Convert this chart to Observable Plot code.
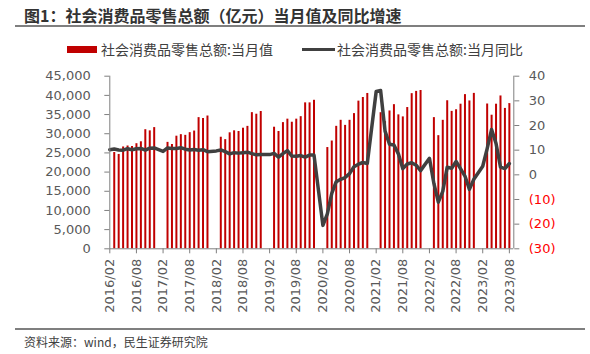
<!DOCTYPE html>
<html>
<head>
<meta charset="utf-8">
<script src="https://cdn.jsdelivr.net/npm/d3@7"></script>
<script src="https://cdn.jsdelivr.net/npm/@observablehq/plot@0.6"></script>
<style>
  html, body { margin: 0; padding: 0; background: #fff; }
  #wrap { position: relative; width: 590px; height: 354px; overflow: hidden; font-family: "Noto Sans CJK SC", sans-serif; }
  .abs { position: absolute; white-space: nowrap; }
  #title { left: 24px; top: 5px; font-size: 16px; line-height: 20px; font-weight: bold; color: #333; }
  .rule { position: absolute; left: 15px; width: 570px; height: 2px; background: #7f7f7f; }
  .leg { top: 41.5px; font-size: 14px; line-height: 14px; color: #404040; }
  #source { left: 24px; top: 336px; font-size: 12px; line-height: 12px; color: #404040; }
  #chart { position: absolute; left: 0; top: 60px; }
</style>
</head>
<body>
<div id="wrap">
  <div id="title" class="abs">图1：社会消费品零售总额（亿元）当月值及同比增速</div>
  <div class="rule" style="top:25px"></div>
  <div class="abs" style="left:66.7px;top:46px;width:30px;height:7px;background:#C00000"></div>
  <div class="abs leg" style="left:101px">社会消费品零售总额:当月值</div>
  <div class="abs" style="left:302px;top:47.5px;width:33px;height:3px;background:#404040"></div>
  <div class="abs leg" style="left:337px">社会消费品零售总额:当月同比</div>
  <div id="chart"></div>
  <div class="rule" style="top:328px"></div>
  <div id="source" class="abs">资料来源：wind，民生证券研究院</div>
</div>
<script>
// ---- Data ----
const seriesBar = "社会消费品零售总额:当月值";
const seriesLine = "社会消费品零售总额:当月同比";
const firstMonth = "2016/02";
const lastMonth = "2023/08";

// Monthly retail sales (亿元), March..December (Jan/Feb not published separately)
const sales2016 = [25100, 24600, 26550, 26800, 26670, 27400, 27900, 31050, 30750, 31600];
const sales2017 = [27750, 27200, 29360, 29760, 29580, 30280, 30700, 34200, 33970, 34620];
const sales2018 = [29090, 28460, 30240, 30760, 30580, 31440, 31920, 35500, 35090, 35790];
const sales2019 = [31700, 30590, 32900, 33800, 33000, 33800, 34450, 38050, 38050, 38720];
const sales2020 = [26400, 28100, 31930, 33500, 32180, 33500, 35250, 38500, 39450, 40500];
const sales2021 = [35480, 33150, 35940, 37580, 34920, 34390, 36830, 40450, 41040, 41270];
const sales2022 = [34200, 29500, 33500, 38600, 35830, 36250, 37700, 40200, 38550, 40520];
const sales2023 = [37750, 34830, 37700, 39850, 36600, 37850];

// YoY growth (%), February..December (February = Jan-Feb cumulative)
const yoy2016 = [10.2, 10.5, 10.1, 10.0, 10.6, 10.2, 10.6, 10.7, 10.0, 10.8, 10.9];
const yoy2017 = [9.5, 10.9, 10.7, 10.7, 11.0, 10.4, 10.1, 10.3, 10.0, 10.2, 9.4];
const yoy2018 = [9.7, 10.1, 9.4, 8.5, 9.0, 8.8, 9.0, 9.2, 8.6, 8.1, 8.2];
const yoy2019 = [8.2, 8.7, 7.2, 8.6, 9.8, 7.6, 7.5, 7.8, 7.2, 8.0, 8.0];
const yoy2020 = [-20.5, -15.8, -7.5, -2.8, -1.8, -1.1, 0.5, 3.3, 4.3, 5.0, 4.6];
const yoy2021 = [33.8, 34.2, 17.7, 12.4, 12.1, 8.5, 2.5, 4.4, 4.9, 3.9, 1.7];
const yoy2022 = [6.7, -3.5, -11.1, -6.7, 3.1, 2.7, 5.4, 2.5, -0.5, -5.9, -1.8];
const yoy2023 = [3.5, 10.6, 18.4, 12.7, 3.1, 2.5, 4.6];

const years = [2016, 2017, 2018, 2019, 2020, 2021, 2022, 2023];
const salesByYear = [sales2016, sales2017, sales2018, sales2019, sales2020, sales2021, sales2022, sales2023];
const yoyByYear = [yoy2016, yoy2017, yoy2018, yoy2019, yoy2020, yoy2021, yoy2022, yoy2023];

const salesTicks = [0, 5000, 10000, 15000, 20000, 25000, 30000, 35000, 40000, 45000];
const yoyTicks = [-30, -20, -10, 0, 10, 20, 30, 40];
const xTickLabels = ["2016/02","2016/08","2017/02","2017/08","2018/02","2018/08","2019/02","2019/08",
  "2020/02","2020/08","2021/02","2021/08","2022/02","2022/08","2023/02","2023/08"];

// ---- Build tables ----
const pad = m => (m < 10 ? "0" : "") + m;
const months = [];
for (let y = 2016; y <= 2023; y++) for (let m = 1; m <= 12; m++) months.push(`${y}/${pad(m)}`);
const monthList = months.slice(months.indexOf(firstMonth), months.indexOf(lastMonth) + 1);
const idx = label => monthList.indexOf(label);

const bars = [];
const line = [];
years.forEach((y, k) => {
  salesByYear[k].forEach((v, j) => bars.push({i: idx(`${y}/${pad(j + 3)}`), v}));
  yoyByYear[k].forEach((v, j) => line.push({i: idx(`${y}/${pad(j + 2)}`), v}));
});

const salesMax = salesTicks[salesTicks.length - 1];
const yoyMin = yoyTicks[0], yoyMax = yoyTicks[yoyTicks.length - 1];
const toLeft = v => (v - yoyMin) / (yoyMax - yoyMin) * salesMax;
const fmtYoY = v => (v < 0 ? `(${-v})` : `${v}`);
const xDomain = [0, monthList.length]; // one extra slot at the right edge

const axisGray = "#7f7f7f";
const textGray = "#595959";

const chart = Plot.plot({
  width: 590,
  height: 260,
  marginTop: 15.7,
  marginBottom: 71.7,
  marginLeft: 109.3,
  marginRight: 76.7,
  style: {fontFamily: "DejaVu Sans, sans-serif", fontSize: "13px", color: textGray, background: "transparent"},
  x: {type: "linear", domain: xDomain},
  y: {domain: [0, salesMax]},
  marks: [
    Plot.ruleX(bars, {x: "i", y1: 0, y2: "v", stroke: "#C00000", strokeWidth: 2}),
    Plot.line(line, {x: "i", y: d => toLeft(d.v), stroke: "#404040", strokeWidth: 3.5, strokeLinejoin: "round", curve: "linear"}),
    Plot.ruleX([xDomain[0], xDomain[1]], {stroke: axisGray, strokeWidth: 1}),
    Plot.ruleY([0], {stroke: axisGray, strokeWidth: 1}),
    Plot.axisY(salesTicks, {anchor: "left", tickSize: 5, tickPadding: 14, tickFormat: d3.format(","), label: null, stroke: axisGray, fill: textGray}),
    Plot.axisY(yoyTicks.map(toLeft), {anchor: "right", tickSize: 5, tickFormat: () => "", label: null, stroke: axisGray}),
    Plot.text(yoyTicks, {y: d => toLeft(d), frameAnchor: "right", dx: 15, textAnchor: "start", text: fmtYoY,
      fill: d => (d < 0 ? "#FF0000" : textGray)}),
    Plot.axisX(xTickLabels.map(idx), {tickFormat: i => monthList[i], tickRotate: -90, tickSize: 5, tickPadding: 5, label: null, stroke: axisGray, fill: textGray})
  ]
});
document.getElementById("chart").appendChild(chart);
</script>
</body>
</html>
